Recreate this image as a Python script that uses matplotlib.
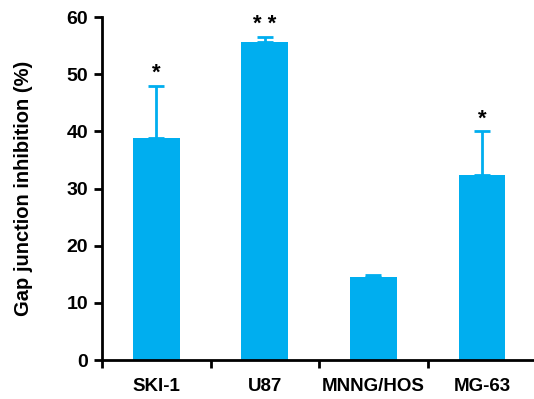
import matplotlib
matplotlib.use("Agg")
import matplotlib.pyplot as plt

categories = ["SKI-1", "U87", "MNNG/HOS", "MG-63"]
values = [38.8, 55.6, 14.5, 32.3]
errors = [9.2, 0.9, 0.3, 7.7]
stars = ["*", "* *", "", "*"]
yticks = [0, 10, 20, 30, 40, 50, 60]

color = "#00AEEF"
plt.rcParams['font.family'] = ['Liberation Sans', 'DejaVu Sans']

fig = plt.figure(figsize=(5.34, 3.99), dpi=100)
ax = fig.add_axes([0.191, 0.0977, 0.809, 0.8596])

x = list(range(len(categories)))
ax.bar(x, values, width=0.43, color=color, zorder=2)
ax.errorbar(x, values, yerr=[[0]*len(errors), errors], fmt="none",
            ecolor=color, elinewidth=2, capsize=6, capthick=2, zorder=1)
for xi, v, e, s in zip(x, values, errors, stars):
    if s:
        ax.text(xi, v + e + 0.3, s, ha="center", va="bottom",
                fontsize=16, fontweight="bold", color="black")

ax.set_xlim(-0.5, 3.48)
ax.set_ylim(0, 60)
ax.set_yticks(yticks)
ax.set_yticklabels([str(t) for t in yticks], fontsize=14, fontweight="bold")
ax.set_xticks([-0.5, 0.5, 1.5, 2.5])
ax.set_xticklabels([])
ax.set_xticks(x, minor=True)
ax.set_xticklabels(categories, minor=True, fontsize=13.5, fontweight="bold")
ax.tick_params(axis="x", which="minor", length=0, pad=13)
ax.tick_params(axis="both", which="major", length=6, width=2, direction="out")
ax.tick_params(axis="y", pad=4)

for sp in ["top", "right"]:
    ax.spines[sp].set_visible(False)
for sp in ["left", "bottom"]:
    ax.spines[sp].set_linewidth(2)

ax.set_ylabel("Gap junction inhibition (%)", fontsize=14.5, fontweight="bold", labelpad=24)

fig.savefig("out.png", dpi=100)
